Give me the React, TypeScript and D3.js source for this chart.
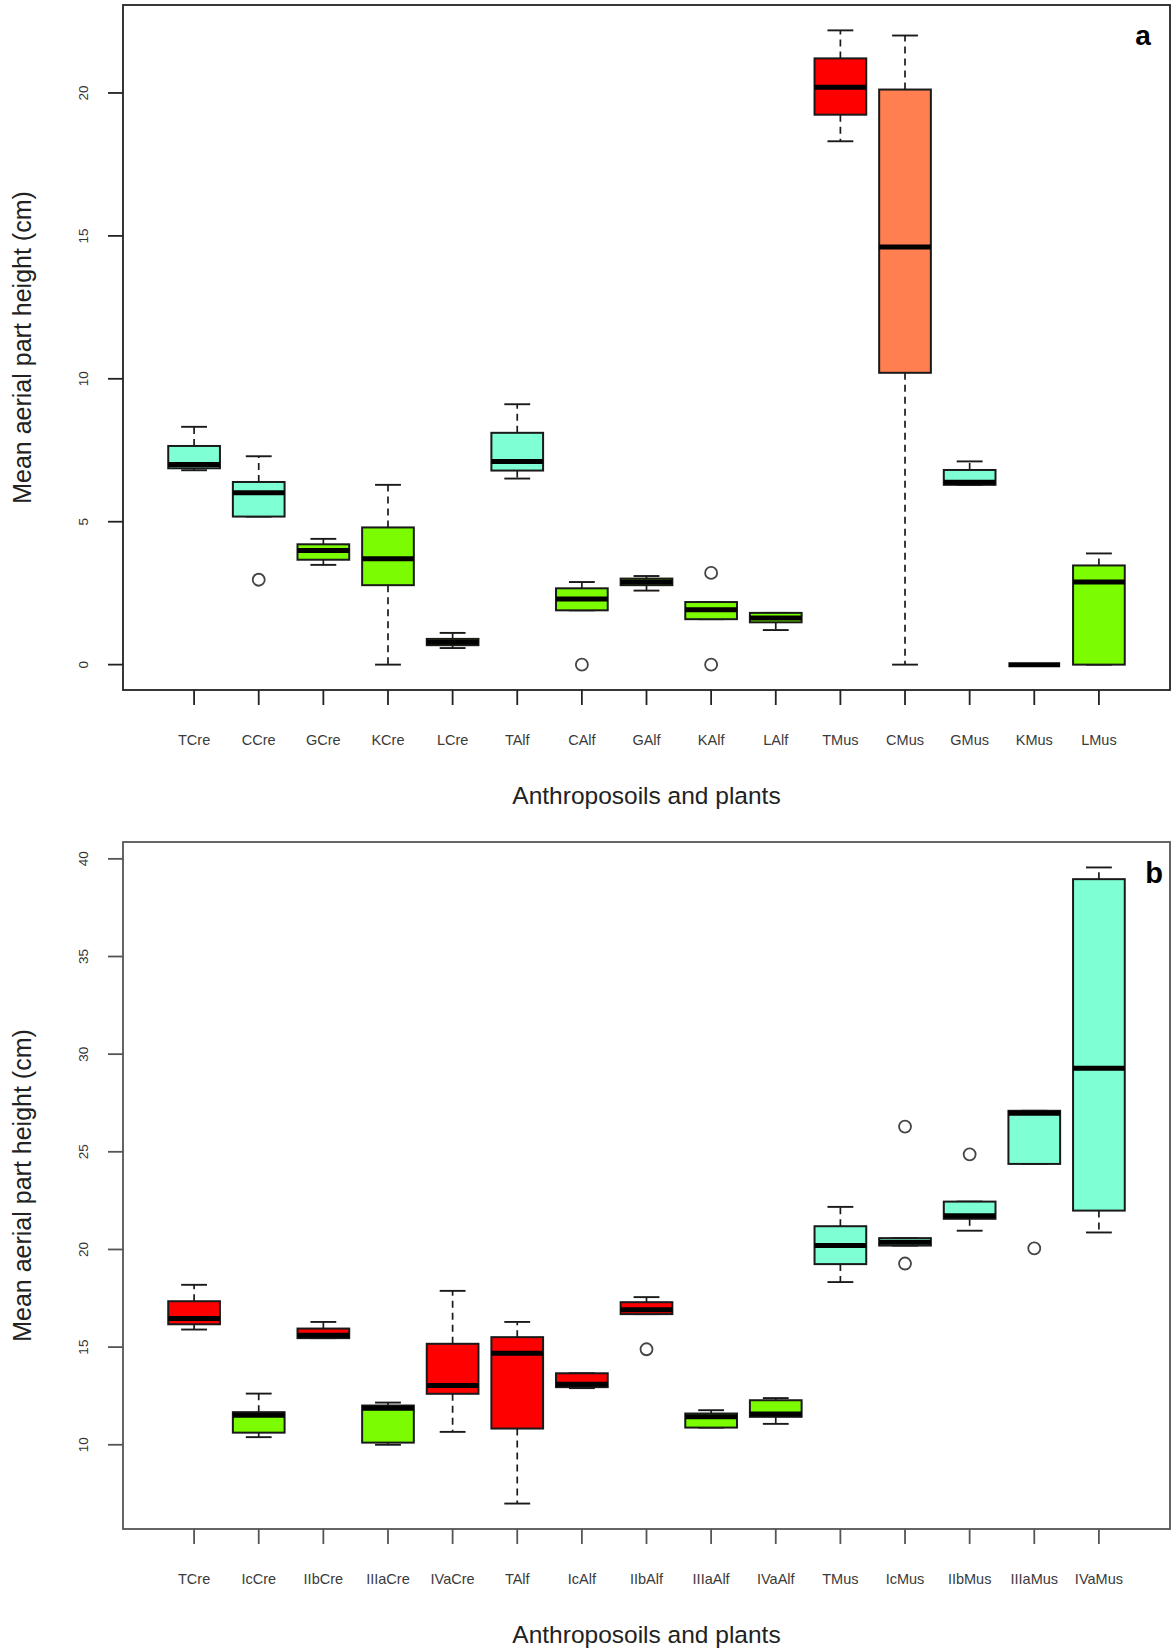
import React from "react";
import * as d3 from "d3";

// ---------- Panel a data ----------
const catsA = ["TCre", "CCre", "GCre", "KCre", "LCre", "TAlf", "CAlf", "GAlf", "KAlf", "LAlf", "TMus", "CMus", "GMus", "KMus", "LMus"];
// [lower whisker, Q1, median, Q3, upper whisker]
const statsA: number[][] = [
  [6.8, 6.87, 7.0, 7.65, 8.32],
  [5.18, 5.18, 6.01, 6.39, 7.29],
  [3.49, 3.67, 3.99, 4.21, 4.4],
  [0, 2.78, 3.7, 4.8, 6.29],
  [0.58, 0.68, 0.78, 0.9, 1.11],
  [6.51, 6.79, 7.11, 8.11, 9.11],
  [1.9, 1.9, 2.3, 2.67, 2.89],
  [2.59, 2.78, 2.89, 3.01, 3.1],
  [1.59, 1.59, 1.92, 2.19, 2.19],
  [1.21, 1.48, 1.63, 1.81, 1.81],
  [18.31, 19.24, 20.2, 21.21, 22.19],
  [0, 10.21, 14.61, 20.12, 22.01],
  [6.29, 6.29, 6.38, 6.81, 7.11],
  [0, 0, 0, 0, 0],
  [0, 0, 2.89, 3.47, 3.89],
];
const outliersA: number[][] = [[], [2.97], [], [], [], [], [0], [], [3.21, 0], [], [], [], [], [], []];
const colorsA = ["aqua", "aqua", "green", "green", "green", "aqua", "green", "green", "green", "green", "red", "coral", "aqua", "green", "green"];
const ticksA = [0, 5, 10, 15, 20];

// ---------- Panel b data ----------
const catsB = ["TCre", "IcCre", "IIbCre", "IIIaCre", "IVaCre", "TAlf", "IcAlf", "IIbAlf", "IIIaAlf", "IVaAlf", "TMus", "IcMus", "IIbMus", "IIIaMus", "IVaMus"];
const statsB: number[][] = [
  [15.9, 16.17, 16.46, 17.35, 18.19],
  [10.39, 10.62, 11.51, 11.67, 12.62],
  [15.46, 15.46, 15.61, 15.95, 16.29],
  [10.0, 10.11, 11.87, 12.01, 12.16],
  [10.66, 12.61, 13.03, 15.17, 17.88],
  [6.99, 10.83, 14.69, 15.51, 16.29],
  [12.9, 12.95, 13.1, 13.66, 13.66],
  [16.69, 16.69, 16.91, 17.3, 17.56],
  [10.88, 10.88, 11.44, 11.6, 11.77],
  [11.07, 11.43, 11.58, 12.28, 12.39],
  [18.33, 19.25, 20.2, 21.19, 22.18],
  [20.2, 20.2, 20.37, 20.58, 20.58],
  [20.96, 21.57, 21.73, 22.45, 22.45],
  [24.38, 24.38, 26.97, 27.1, 27.1],
  [20.87, 21.99, 29.28, 38.96, 39.56],
];
const outliersB: number[][] = [[], [], [], [], [], [], [], [14.89], [], [], [], [26.29, 19.28], [24.87], [20.06], []];
const colorsB = ["red", "green", "red", "green", "red", "red", "red", "red", "green", "green", "aqua", "aqua", "aqua", "aqua", "aqua"];
const ticksB = [10, 15, 20, 25, 30, 35, 40];

const palette: Record<string, string> = {
  aqua: "#7FFFD4",
  green: "#7CFC00",
  red: "#FF0000",
  coral: "#FF7F50",
};

const FONT = "'Liberation Sans', Arial, sans-serif";

type PanelProps = {
  cats: string[];
  stats: number[][];
  outliers: number[][];
  colors: string[];
  ticks: number[];
  top: number;
  bottom: number;
  letter: string;
  letterX: number;
  letterY: number;
  letterSize: number;
  frameColor: string;
};

function Panel(p: PanelProps) {
  const left = 123;
  const right = 1170;
  const n = p.cats.length;
  const x = d3.scaleLinear().domain([0.5 - 0.04 * n, n + 0.5 + 0.04 * n]).range([left, right]);
  const all: number[] = [];
  p.stats.forEach((s) => all.push(s[0], s[4]));
  p.outliers.forEach((o) => all.push(...o));
  const lo = d3.min(all) as number;
  const hi = d3.max(all) as number;
  const pad = (hi - lo) * 0.04;
  const y = d3.scaleLinear().domain([lo - pad, hi + pad]).range([p.bottom, p.top]);
  const unit = x(2) - x(1);
  const bw = unit * 0.8;
  const sw = bw * 0.5;
  const stroke = "#1a1a1a";

  return (
    <g>
      <rect x={left} y={p.top} width={right - left} height={p.bottom - p.top} fill="none" stroke={p.frameColor} strokeWidth={1.8} />
      {/* y ticks */}
      {p.ticks.map((t) => (
        <g key={"yt" + t}>
          <line x1={left - 15} x2={left} y1={y(t)} y2={y(t)} stroke={p.frameColor} strokeWidth={1.8} />
          <text
            x={84}
            y={y(t)}
            transform={`rotate(-90, 84, ${y(t)})`}
            textAnchor="middle"
            dominantBaseline="central"
            fontFamily={FONT}
            fontSize={13.5}
            fill="#333"
          >
            {t}
          </text>
        </g>
      ))}
      {/* x ticks */}
      {p.cats.map((c, i) => (
        <g key={"xt" + c}>
          <line x1={x(i + 1)} x2={x(i + 1)} y1={p.bottom} y2={p.bottom + 15} stroke={p.frameColor} strokeWidth={1.8} />
          <text x={x(i + 1)} y={p.bottom + 55} textAnchor="middle" fontFamily={FONT} fontSize={14.5} fill="#3a3a3a">
            {c}
          </text>
        </g>
      ))}
      {/* boxes */}
      {p.stats.map((s, i) => {
        const cx = x(i + 1);
        const [wl, q1, md, q3, wh] = s;
        return (
          <g key={"b" + i}>
            <line x1={cx} x2={cx} y1={y(q3)} y2={y(wh)} stroke={stroke} strokeWidth={1.7} strokeDasharray="7,5" />
            <line x1={cx} x2={cx} y1={y(q1)} y2={y(wl)} stroke={stroke} strokeWidth={1.7} strokeDasharray="7,5" />
            <line x1={cx - sw / 2} x2={cx + sw / 2} y1={y(wh)} y2={y(wh)} stroke={stroke} strokeWidth={1.9} />
            <line x1={cx - sw / 2} x2={cx + sw / 2} y1={y(wl)} y2={y(wl)} stroke={stroke} strokeWidth={1.9} />
            <rect
              x={cx - bw / 2}
              y={y(q3)}
              width={bw}
              height={Math.max(0, y(q1) - y(q3))}
              fill={palette[p.colors[i]]}
              stroke={stroke}
              strokeWidth={2}
            />
            <line x1={cx - bw / 2} x2={cx + bw / 2} y1={y(md)} y2={y(md)} stroke="#000" strokeWidth={5} />
            {p.outliers[i].map((o, k) => (
              <circle key={k} cx={cx} cy={y(o)} r={6} fill="none" stroke="#444" strokeWidth={1.8} />
            ))}
          </g>
        );
      })}
      {/* axis titles */}
      <text
        x={(left + right) / 2}
        y={p.bottom + 114}
        textAnchor="middle"
        fontFamily={FONT}
        fontSize={24.5}
        fill="#222"
      >
        Anthroposoils and plants
      </text>
      <text
        x={22}
        y={(p.top + p.bottom) / 2}
        transform={`rotate(-90, 22, ${(p.top + p.bottom) / 2})`}
        textAnchor="middle"
        dominantBaseline="central"
        fontFamily={FONT}
        fontSize={25}
        fill="#222"
      >
        Mean aerial part height (cm)
      </text>
      <text
        x={p.letterX}
        y={p.letterY}
        textAnchor="middle"
        fontFamily={FONT}
        fontWeight="bold"
        fontSize={p.letterSize}
        fill="#000"
      >
        {p.letter}
      </text>
    </g>
  );
}

export default function App() {
  return (
    <svg
      width={1173}
      height={1649}
      style={{ position: "absolute", left: 0, top: 0, background: "#fff" }}
    >
      <rect x={0} y={0} width={1173} height={1649} fill="#fff" />
      <Panel
        cats={catsA}
        stats={statsA}
        outliers={outliersA}
        colors={colorsA}
        ticks={ticksA}
        top={5}
        bottom={690}
        letter="a"
        letterX={1143}
        letterY={45}
        letterSize={28}
        frameColor="#222"
      />
      <Panel
        cats={catsB}
        stats={statsB}
        outliers={outliersB}
        colors={colorsB}
        ticks={ticksB}
        top={842}
        bottom={1529}
        letter="b"
        letterX={1154}
        letterY={883}
        letterSize={29}
        frameColor="#555"
      />
    </svg>
  );
}
